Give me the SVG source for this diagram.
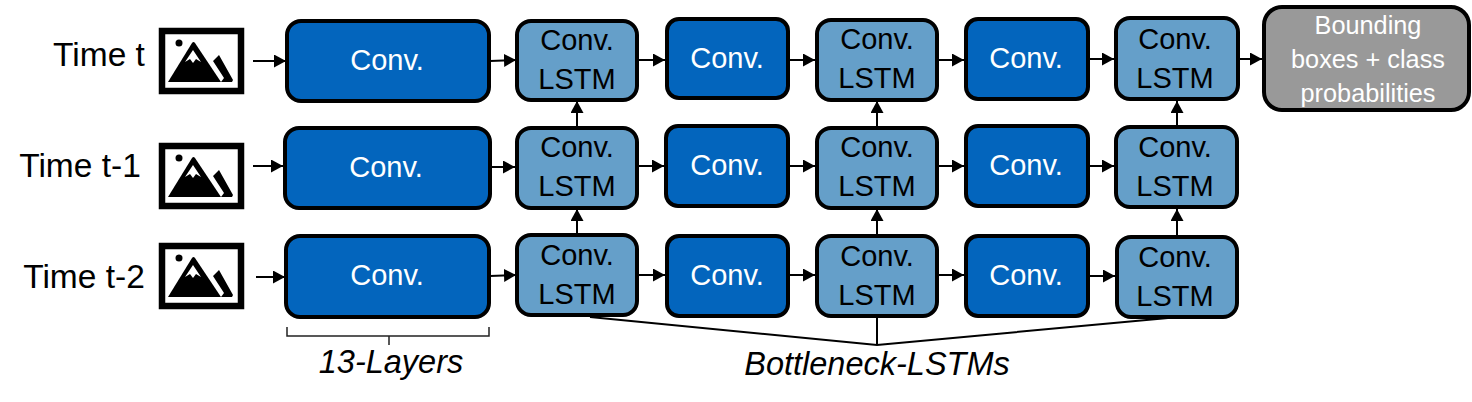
<svg xmlns="http://www.w3.org/2000/svg" xmlns:xlink="http://www.w3.org/1999/xlink" width="1472" height="402" viewBox="0 0 1472 402">
<style>
text{font-family:"Liberation Sans",Arial,sans-serif;text-anchor:middle}
.box{stroke:#000;stroke-width:4}
.conv{fill:#0365bd}
.lstm{fill:#659fc9}
.out{fill:#999}
.w{fill:#fff;font-size:29px}
.o{fill:#fff;font-size:25.300px}
.k{fill:#000;font-size:29px}
.t{fill:#000;font-size:33.500px}
.i{fill:#000;font-size:32.500px;font-style:italic}
.c{fill:none;stroke:#000;stroke-width:2}
.a{fill:none;stroke:#000;stroke-width:2;marker-end:url(#arr)}
.b{fill:none;stroke:#222;stroke-width:1.500}
</style>
<defs>
<marker id="arr" markerUnits="userSpaceOnUse" markerWidth="13" markerHeight="14" refX="12" refY="6.500" orient="auto"><path d="M0 0L12 6.500L0 13Z" fill="#000"/></marker>
<symbol id="pic" width="86" height="68" viewBox="0 0 86 68" overflow="visible">
<rect x="3" y="3" width="79" height="60" fill="#fff" stroke="#000" stroke-width="6.500"/>
<circle cx="20" cy="15" r="3.500" fill="#000"/>
<path d="M9 54L33 15Q34.500 13 36 15L62 54Z" fill="#000"/>
<path d="M26 34L34 22L42 34L37 31L34 35L31 31Z" fill="#fff"/>
<path d="M54 33L60 27L74 52L73 54H62L65 50Z" fill="#000"/>
</symbol>
</defs>
<g id="connectors">
<path class="a" d="M253 61H286"/><path class="a" d="M490 61L516 60"/><path class="a" d="M639 60H665"/><path class="a" d="M790 60H815"/><path class="a" d="M939 60H964"/><path class="a" d="M1090 59H1114"/><path class="a" d="M1239 59H1262"/>
<path class="a" d="M253 166H283"/><path class="a" d="M491 167H515"/><path class="a" d="M639 166H664"/><path class="a" d="M790 166H815"/><path class="a" d="M939 166H964"/><path class="a" d="M1090 166H1114"/>
<path class="a" d="M256 277H285"/><path class="a" d="M490 276L516 275"/><path class="a" d="M639 275H665"/><path class="a" d="M790 275H815"/><path class="a" d="M939 275H964"/><path class="a" d="M1090 276H1115"/>
<path class="a" d="M577 126V101"/><path class="a" d="M877 126V101"/><path class="a" d="M1177 125V101"/>
<path class="a" d="M577 233V209"/><path class="a" d="M877 234V209"/><path class="a" d="M1177 235V209"/>
<path class="c" d="M590 317L877 345L1168 318M877 317V345"/>
<path class="b" d="M287 327V336H489V327M389 336V345"/>
</g>
<g id="image-t"><use xlink:href="#pic" href="#pic" x="159" y="28"/></g>
<g id="image-t1"><use xlink:href="#pic" href="#pic" x="159" y="143"/></g>
<g id="image-t2"><use xlink:href="#pic" href="#pic" x="159" y="243"/></g>
<g id="label-t"><text class="t" x="99" y="66">Time t</text></g>
<g id="label-t1"><text class="t" x="80" y="177">Time t-1</text></g>
<g id="label-t2"><text class="t" x="84" y="288">Time t-2</text></g>
<g id="n1"><rect class="box conv" x="287" y="21" width="202" height="80" rx="14"/><text class="w" x="387" y="70">Conv.</text></g>
<g id="n2"><rect class="box lstm" x="517" y="21" width="120" height="79" rx="14"/><text class="k" x="577" y="50">Conv.</text><text class="k" x="577" y="89">LSTM</text></g>
<g id="n3"><rect class="box conv" x="667" y="19" width="121" height="79" rx="12"/><text class="w" x="727" y="68">Conv.</text></g>
<g id="n4"><rect class="box lstm" x="817" y="20" width="120" height="80" rx="14"/><text class="k" x="877" y="49">Conv.</text><text class="k" x="877" y="88">LSTM</text></g>
<g id="n5"><rect class="box conv" x="966" y="19" width="122" height="80" rx="12"/><text class="w" x="1026" y="68">Conv.</text></g>
<g id="n6"><rect class="box lstm" x="1116" y="18" width="122" height="81" rx="14"/><text class="k" x="1175" y="49">Conv.</text><text class="k" x="1175" y="88">LSTM</text></g>
<g id="n7"><rect class="box out" x="1264" y="7" width="205" height="103" rx="18"/><text class="o" x="1368" y="34">Bounding</text><text class="o" x="1368" y="68">boxes + class</text><text class="o" x="1368" y="102">probabilities</text></g>
<g id="n8"><rect class="box conv" x="285" y="128" width="205" height="80" rx="14"/><text class="w" x="386" y="177">Conv.</text></g>
<g id="n9"><rect class="box lstm" x="517" y="128" width="120" height="80" rx="14"/><text class="k" x="577" y="157">Conv.</text><text class="k" x="577" y="196">LSTM</text></g>
<g id="n10"><rect class="box conv" x="666" y="126" width="122" height="80" rx="12"/><text class="w" x="727" y="175">Conv.</text></g>
<g id="n11"><rect class="box lstm" x="817" y="128" width="120" height="80" rx="14"/><text class="k" x="877" y="157">Conv.</text><text class="k" x="877" y="196">LSTM</text></g>
<g id="n12"><rect class="box conv" x="966" y="126" width="122" height="80" rx="12"/><text class="w" x="1026" y="175">Conv.</text></g>
<g id="n13"><rect class="box lstm" x="1116" y="127" width="121" height="80" rx="14"/><text class="k" x="1175" y="157">Conv.</text><text class="k" x="1175" y="196">LSTM</text></g>
<g id="n14"><rect class="box conv" x="286" y="236" width="203" height="81" rx="14"/><text class="w" x="387" y="285">Conv.</text></g>
<g id="n15"><rect class="box lstm" x="517" y="235" width="120" height="80" rx="14"/><text class="k" x="577" y="265">Conv.</text><text class="k" x="577" y="304">LSTM</text></g>
<g id="n16"><rect class="box conv" x="667" y="236" width="121" height="80" rx="12"/><text class="w" x="727" y="285">Conv.</text></g>
<g id="n17"><rect class="box lstm" x="817" y="236" width="120" height="80" rx="14"/><text class="k" x="877" y="266">Conv.</text><text class="k" x="877" y="305">LSTM</text></g>
<g id="n18"><rect class="box conv" x="966" y="236" width="122" height="80" rx="12"/><text class="w" x="1026" y="285">Conv.</text></g>
<g id="n19"><rect class="box lstm" x="1117" y="237" width="120" height="80" rx="14"/><text class="k" x="1175" y="267">Conv.</text><text class="k" x="1175" y="306">LSTM</text></g>
<g id="label-13"><text class="i" x="391" y="373">13-Layers</text></g>
<g id="label-bn"><text class="i" x="877" y="375">Bottleneck-LSTMs</text></g>
</svg>
